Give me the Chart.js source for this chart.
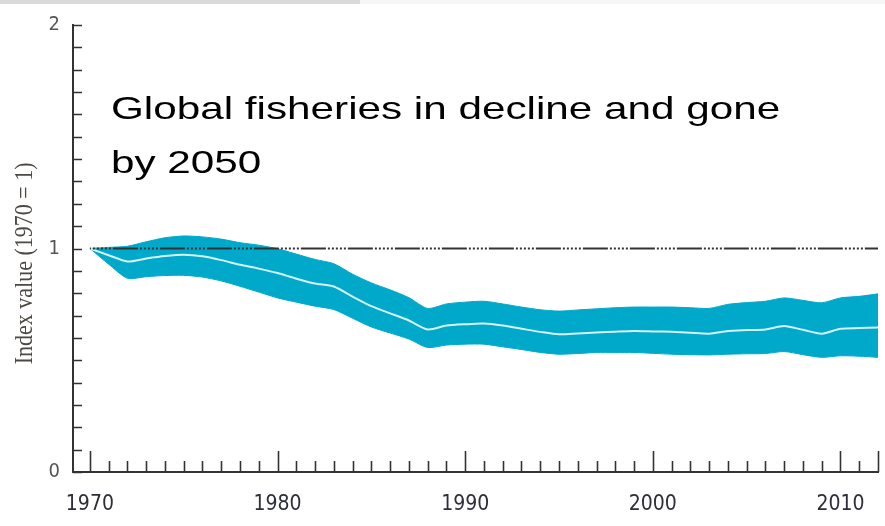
<!DOCTYPE html>
<html lang="en">
<head>
<meta charset="UTF-8">
<title>Global fisheries index</title>
<script src="https://cdn.jsdelivr.net/npm/chart.js"></script>
<style>
  * { box-sizing: border-box; margin: 0; padding: 0; }
  body {
    width: 885px; height: 526px; background: #fff;
    position: relative; overflow: hidden;
    font-family: "Liberation Sans", Arial, sans-serif;
  }
  /* thin grey strip along the top edge */
  .topbar { position: absolute; top: 0; left: 0; width: 885px; height: 4px; background: #f6f6f6; }
  .topbar span { display: block; width: 360px; height: 4px; background: #d9d9d9; }
  #chart { position: absolute; left: 0; top: 0; }
  .note {
    position: absolute; left: 111px; top: 81px;
    font-size: 32px; line-height: 54px; color: #000;
    white-space: nowrap;
    transform: scaleX(1.32); transform-origin: 0 0;
  }
</style>
</head>
<body>
<div class="topbar"><span></span></div>
<canvas id="chart" width="885" height="526"></canvas>
<div class="note">Global fisheries in decline and gone<br>by 2050</div>

<script>
// index values, 1970 = 1
const years = [1970, 1971, 1972, 1973, 1974, 1975, 1976, 1977, 1978, 1979,
               1980, 1981, 1982, 1983, 1984, 1985, 1986, 1987, 1988, 1989,
               1990, 1991, 1992, 1993, 1994, 1995, 1996, 1997, 1998, 1999,
               2000, 2001, 2002, 2003, 2004, 2005, 2006, 2007, 2008, 2009,
               2010, 2011, 2012];
const upperBound = [1.00, 1.005, 1.01, 1.03, 1.048, 1.056, 1.052, 1.042, 1.026, 1.015,
                    0.999, 0.975, 0.951, 0.932, 0.885, 0.846, 0.815, 0.78, 0.732, 0.752,
                    0.76, 0.764, 0.752, 0.738, 0.726, 0.72, 0.725, 0.73, 0.735, 0.738,
                    0.738, 0.738, 0.735, 0.732, 0.75, 0.758, 0.764, 0.779, 0.768, 0.757,
                    0.779, 0.786, 0.797];
const indexValue = [1.00, 0.97, 0.942, 0.955, 0.966, 0.972, 0.965, 0.948, 0.927, 0.91,
                    0.89, 0.865, 0.843, 0.83, 0.785, 0.742, 0.71, 0.678, 0.638, 0.655,
                    0.661, 0.664, 0.655, 0.641, 0.627, 0.616, 0.62, 0.624, 0.628, 0.631,
                    0.629, 0.627, 0.623, 0.619, 0.631, 0.635, 0.638, 0.653, 0.636, 0.619,
                    0.641, 0.644, 0.646];
const lowerBound = [1.00, 0.93, 0.867, 0.874, 0.879, 0.88, 0.872, 0.855, 0.831, 0.805,
                    0.779, 0.76, 0.742, 0.727, 0.688, 0.649, 0.622, 0.595, 0.557, 0.568,
                    0.572, 0.572, 0.56, 0.548, 0.535, 0.527, 0.53, 0.535, 0.535, 0.535,
                    0.531, 0.527, 0.525, 0.524, 0.527, 0.529, 0.53, 0.539, 0.525, 0.513,
                    0.52, 0.518, 0.513];
const baseIndex = 1;
const xLabels = [1970, 1980, 1990, 2000, 2010];
const yLabels = [0, 1, 2];

const band = '#00a9c9';
const axisColor = '#333';
const narrow = "'Liberation Sans Narrow', 'DejaVu Sans Condensed', sans-serif";
const firstYear = years[0];
const lastYear = years[years.length - 1];

const pts = arr => years.map((yr, i) => ({ x: yr, y: arr[i] }));

// inward tick marks + rotated serif axis title
const axisDecor = {
  id: 'axisDecor',
  afterDatasetsDraw(chart) {
    const { ctx, scales: { x, y } } = chart;
    ctx.save();
    ctx.strokeStyle = axisColor;
    ctx.lineWidth = 1.6;
    ctx.beginPath();
    for (let i = 0; i <= 20; i++) {
      const py = Math.round(y.getPixelForValue(i / 10)) + 0.5;
      ctx.moveTo(x.left, py);
      ctx.lineTo(x.left + 9, py);
    }
    for (let yr = firstYear; yr <= lastYear; yr++) {
      const px = Math.round(x.getPixelForValue(yr)) + 0.5;
      const len = (yr % 10 === 0 || yr === lastYear) ? 21 : 11;
      ctx.moveTo(px, y.bottom);
      ctx.lineTo(px, y.bottom - len);
    }
    ctx.stroke();

    ctx.translate(25, y.getPixelForValue(0.5) + 4);
    ctx.rotate(-Math.PI / 2);
    ctx.scale(1, 1.15);
    ctx.fillStyle = '#4d4843';
    ctx.font = "22px 'Liberation Serif', 'DejaVu Serif', serif";
    ctx.textAlign = 'left';
    ctx.textBaseline = 'middle';
    ctx.fillText('Index value (1970 = 1)', 0, 0);
    ctx.restore();
  }
};

new Chart(document.getElementById('chart'), {
  type: 'line',
  data: {
    datasets: [
      {
        label: 'baseline',
        data: [{ x: firstYear, y: baseIndex }, { x: lastYear, y: baseIndex }],
        borderColor: '#333',
        borderWidth: 2.2,
        borderDash: [25, 2, 2, 2, 2, 2, 2, 2, 2, 2, 2, 2],
        borderDashOffset: 24,
        pointRadius: 0,
        fill: false,
        order: 0
      },
      {
        label: 'index',
        data: pts(indexValue),
        borderColor: 'rgba(236, 249, 251, 0.9)',
        borderWidth: 2,
        pointRadius: 0,
        tension: 0.25,
        fill: false,
        order: 1
      },
      {
        label: 'upper',
        data: pts(upperBound),
        borderColor: band,
        backgroundColor: band,
        borderWidth: 1,
        pointRadius: 0,
        tension: 0.25,
        fill: '+1',
        order: 2
      },
      {
        label: 'lower',
        data: pts(lowerBound),
        borderColor: band,
        borderWidth: 1,
        pointRadius: 0,
        tension: 0.25,
        fill: false,
        order: 3
      }
    ]
  },
  options: {
    responsive: false,
    animation: false,
    layout: { padding: { top: 22, right: 7, left: 0, bottom: 0 } },
    plugins: { legend: { display: false }, tooltip: { enabled: false } },
    scales: {
      x: {
        type: 'linear',
        min: 1969.1,
        max: lastYear,
        afterBuildTicks: s => { s.ticks = xLabels.map(v => ({ value: v })); },
        afterFit: s => { s.height = 54; },
        grid: { display: false, drawTicks: false },
        border: { display: true, color: axisColor, width: 2 },
        ticks: {
          padding: 20,
          color: '#2e2e3a',
          maxRotation: 0,
          autoSkip: false,
          font: { family: narrow, size: 21 },
          callback: v => String(v)
        }
      },
      y: {
        min: 0,
        max: 2,
        afterBuildTicks: s => { s.ticks = yLabels.map(v => ({ value: v })); },
        afterFit: s => { s.width = 73; },
        grid: { display: false, drawTicks: false },
        border: { display: true, color: axisColor, width: 2 },
        ticks: {
          padding: 13,
          color: '#555',
          font: { family: narrow, size: 20 },
          callback: v => String(v)
        }
      }
    }
  },
  plugins: [axisDecor]
});
</script>
</body>
</html>
